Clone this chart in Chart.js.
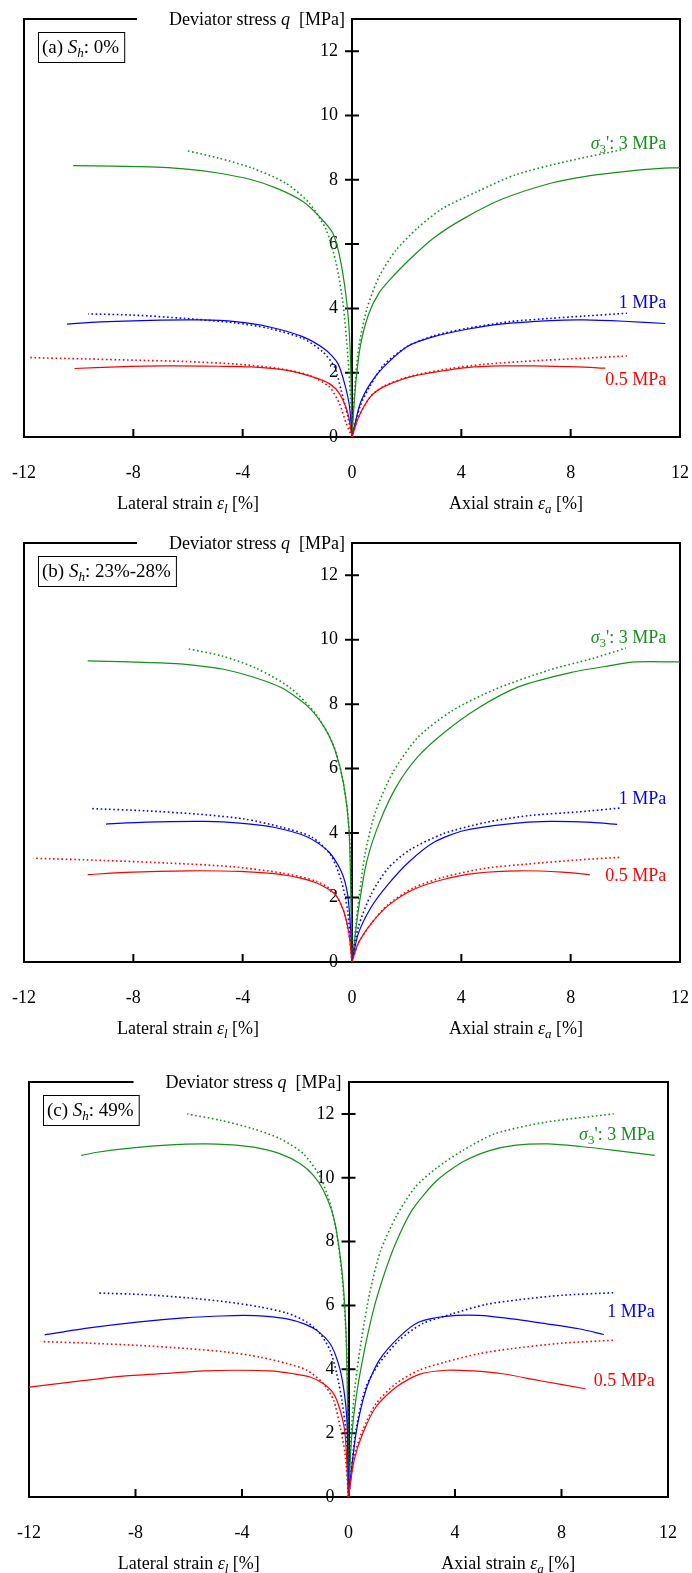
<!DOCTYPE html>
<html lang="en">
<head>
    <meta charset="UTF-8">
    <title>Deviator stress vs strain</title>
    <script src="https://cdn.jsdelivr.net/npm/chart.js"></script>
    <style>
        body {
            margin: 0;
            background-color: #fff;
        }
        .panel {
            position: absolute;
            left: 0;
            width: 692px;
        }
        #pa { top: 0; height: 520px; }
        #pb { top: 524px; height: 520px; }
        #pc { top: 1063px; height: 510px; }
    </style>
</head>
<body>
    <div class="panel" id="pa"><canvas id="chartA"></canvas></div>
    <div class="panel" id="pb"><canvas id="chartB"></canvas></div>
    <div class="panel" id="pc"><canvas id="chartC"></canvas></div>

    <script>
        // x < 0 : lateral strain, x > 0 : axial strain, y : deviator stress q [MPa]
        const xTicks = [-12, -8, -4, 0, 4, 8, 12];
        const yTicks = [0, 2, 4, 6, 8, 10, 12];

        // (a) Sh 0%   Exp = measured (solid), Sim = simulated (dotted)
        const aExp05Lat = [[0,0],[-0.15,0.73],[-0.46,1.35],[-0.83,1.66],[-1.44,1.87],[-2.43,2.08],[-3.67,2.18],[-4.9,2.2],[-6.75,2.21],[-8.6,2.18],[-10.15,2.13]];
        const aSim05Lat = [[0,0],[-0.21,0.42],[-0.46,1.04],[-0.83,1.56],[-1.57,1.92],[-2.68,2.13],[-4.28,2.27],[-6.14,2.35],[-7.99,2.39],[-9.84,2.43],[-11.79,2.47]];
        const aExp1Lat = [[0,0],[-0.09,0.94],[-0.27,1.66],[-0.52,2.29],[-0.95,2.7],[-1.81,3.12],[-3.05,3.43],[-4.28,3.59],[-5.52,3.64],[-7.37,3.63],[-9.22,3.58],[-10.43,3.51]];
        const aSim1Lat = [[0,0],[-0.15,0.62],[-0.4,1.46],[-0.64,2.18],[-1.07,2.65],[-1.81,3.07],[-3.05,3.38],[-4.28,3.55],[-6.14,3.69],[-7.99,3.79],[-9.65,3.83]];
        const aExp3Lat = [[0,0],[-0.05,2.3],[-0.15,3.85],[-0.4,5.4],[-0.7,6.34],[-1.2,6.86],[-1.81,7.33],[-2.68,7.71],[-3.67,8.0],[-4.9,8.21],[-6.14,8.34],[-7.37,8.4],[-10.2,8.44]];
        const aSim3Lat = [[0,0],[-0.02,0.73],[-0.15,2.5],[-0.33,4.16],[-0.58,5.4],[-0.95,6.45],[-1.57,7.28],[-2.43,7.9],[-3.67,8.37],[-4.9,8.68],[-6.07,8.91]];
        const aExp05Axi = [[0,0],[0.24,0.62],[0.67,1.25],[1.16,1.56],[2.13,1.87],[3.11,2.03],[4.21,2.16],[5.43,2.21],[6.65,2.21],[8.23,2.18],[9.27,2.14]];
        const aSim05Axi = [[0,0],[0.24,0.62],[0.67,1.25],[1.16,1.58],[2.13,1.89],[3.6,2.13],[4.82,2.26],[6.65,2.37],[8.48,2.45],[10.06,2.52]];
        const aExp1Axi = [[0,0],[0.3,1.04],[0.67,1.66],[1.16,2.18],[2.01,2.81],[2.99,3.12],[4.21,3.35],[5.43,3.51],[7.26,3.62],[8.48,3.64],[9.94,3.6],[11.46,3.53]];
        const aSim1Axi = [[0,0],[0.3,0.97],[0.67,1.6],[1.16,2.24],[2.01,2.81],[2.99,3.15],[4.21,3.38],[5.79,3.59],[7.26,3.69],[8.48,3.76],[10.06,3.85]];
        const aExp3Axi = [[0,0],[0.12,1.5],[0.3,2.8],[0.6,3.8],[1.0,4.5],[1.5,5.0],[2.2,5.6],[3.0,6.2],[4.1,6.8],[5.5,7.4],[7.3,7.9],[8.5,8.1],[9.7,8.23],[10.9,8.33],[12.0,8.38]];
        const aSim3Axi = [[0,0],[0.1,1.5],[0.25,2.8],[0.55,4.0],[1.0,5.0],[1.6,5.8],[2.4,6.5],[3.3,7.1],[4.6,7.64],[6.0,8.16],[7.9,8.58],[9.9,8.94]];

        // (b) Sh 23%-28%
        const bExp05Lat = [[0,0],[-0.11,0.88],[-0.31,1.59],[-0.62,2.1],[-1.32,2.46],[-2.56,2.71],[-4.11,2.81],[-5.98,2.83],[-8.31,2.78],[-9.67,2.71]];
        const bSim05Lat = [[0,0],[-0.08,0.68],[-0.31,1.59],[-0.7,2.2],[-1.32,2.51],[-2.56,2.76],[-4.43,2.96],[-6.75,3.07],[-9.08,3.15],[-11.65,3.22]];
        const bExp1Lat = [[0,0],[-0.05,1.0],[-0.16,2.1],[-0.39,2.81],[-0.85,3.42],[-1.63,3.88],[-2.87,4.18],[-4.11,4.31],[-5.36,4.36],[-7.53,4.34],[-9.0,4.28]];
        const bSim1Lat = [[0,0],[-0.16,1.59],[-0.39,2.51],[-0.78,3.32],[-1.48,3.88],[-2.56,4.18],[-3.96,4.44],[-5.67,4.59],[-7.53,4.69],[-9.55,4.76]];
        const bExp3Lat = [[0,0],[-0.04,2.0],[-0.11,4.13],[-0.31,5.55],[-0.62,6.57],[-1.01,7.28],[-1.63,7.94],[-2.56,8.5],[-3.65,8.85],[-4.74,9.09],[-5.51,9.18],[-6.44,9.26],[-8.15,9.31],[-9.67,9.34]];
        const bSim3Lat = [[0,0],[-0.05,3.12],[-0.16,4.64],[-0.39,5.86],[-0.7,6.77],[-1.32,7.69],[-2.25,8.5],[-3.49,9.11],[-4.74,9.49],[-6.01,9.72]];
        const bExp05Axi = [[0,0],[0.23,0.58],[0.7,1.19],[1.32,1.75],[2.25,2.25],[3.34,2.56],[4.58,2.76],[6.13,2.83],[7.69,2.79],[8.7,2.71]];
        const bSim05Axi = [[0,0],[0.23,0.58],[0.7,1.19],[1.32,1.78],[2.25,2.3],[3.34,2.63],[4.89,2.91],[6.44,3.04],[8.31,3.17],[9.86,3.25]];
        const bExp1Axi = [[0,0],[0.23,0.88],[0.7,1.7],[1.32,2.41],[2.1,3.12],[3.03,3.73],[4.11,4.08],[5.67,4.28],[7.22,4.36],[8.77,4.33],[9.7,4.27]];
        const bSim1Axi = [[0,0],[0.23,1.08],[0.7,2.1],[1.32,2.91],[2.1,3.47],[3.34,3.98],[4.89,4.33],[6.44,4.54],[8.31,4.66],[9.86,4.78]];
        const bExp3Axi = [[0,0],[0.23,1.59],[0.54,3.12],[1.01,4.34],[1.63,5.45],[2.41,6.37],[3.34,7.1],[4.58,7.86],[6.13,8.55],[8.0,8.98],[9.55,9.21],[10.33,9.31],[12.0,9.31]];
        const bSim3Axi = [[0,0],[0.2,1.59],[0.47,3.32],[0.85,4.64],[1.48,5.86],[2.41,6.97],[3.65,7.79],[5.2,8.45],[7.22,9.06],[8.77,9.41],[10.02,9.74]];

        // (c) Sh 49%
        const cExp05Lat = [[0,0],[-0.13,1.98],[-0.31,2.71],[-0.56,3.24],[-0.94,3.55],[-1.44,3.76],[-2.06,3.86],[-2.94,3.95],[-4.19,3.97],[-5.44,3.95],[-6.69,3.88],[-8.56,3.78],[-10.44,3.6],[-12.0,3.44]];
        const cSim05Lat = [[0,0],[-0.13,1.36],[-0.31,2.19],[-0.56,3.03],[-0.94,3.55],[-1.56,3.97],[-2.31,4.18],[-3.31,4.38],[-4.56,4.54],[-6.06,4.65],[-7.94,4.75],[-9.81,4.82],[-11.56,4.87]];
        const cExp1Lat = [[0,0],[-0.06,2.4],[-0.19,3.44],[-0.38,4.18],[-0.69,4.8],[-1.19,5.22],[-1.69,5.43],[-2.31,5.58],[-3.06,5.66],[-3.94,5.69],[-4.81,5.67],[-6.06,5.62],[-7.94,5.48],[-9.81,5.29],[-11.41,5.08]];
        const cSim1Lat = [[0,0],[-0.09,1.98],[-0.25,3.03],[-0.44,3.86],[-0.69,4.59],[-1.06,5.11],[-1.56,5.48],[-2.31,5.76],[-3.31,5.95],[-4.56,6.11],[-6.06,6.24],[-7.69,6.34],[-9.44,6.39]];
        const cExp3Lat = [[0,0],[-0.03,2.5],[-0.09,5.11],[-0.19,6.58],[-0.34,7.72],[-0.56,8.77],[-0.94,9.6],[-1.31,10.07],[-1.81,10.44],[-2.56,10.75],[-3.56,10.96],[-4.56,11.04],[-5.44,11.06],[-6.69,11.03],[-8.19,10.93],[-9.44,10.8],[-10.04,10.7]];
        const cSim3Lat = [[0,0],[-0.04,4.07],[-0.13,5.64],[-0.25,7.0],[-0.44,8.25],[-0.69,9.19],[-1.06,10.02],[-1.69,10.75],[-2.56,11.22],[-3.56,11.53],[-4.81,11.8],[-6.06,12.0]];
        const cExp05Axi = [[0,0],[0.21,1.15],[0.53,1.98],[1.03,2.82],[1.78,3.44],[2.65,3.84],[3.65,3.97],[4.65,3.95],[5.78,3.86],[7.15,3.65],[8.9,3.39]];
        const cSim05Axi = [[0,0],[0.21,1.25],[0.53,2.09],[1.03,2.92],[1.78,3.55],[2.65,3.97],[3.65,4.23],[4.9,4.49],[6.15,4.65],[8.03,4.82],[9.96,4.91]];
        const cExp1Axi = [[0,0],[0.28,1.98],[0.65,3.34],[1.15,4.28],[1.9,5.01],[2.65,5.48],[3.65,5.66],[4.9,5.69],[6.15,5.58],[7.4,5.43],[8.65,5.27],[9.59,5.09]];
        const cSim1Axi = [[0,0],[0.28,2.09],[0.65,3.44],[1.15,4.18],[1.9,4.91],[2.78,5.43],[3.9,5.74],[5.15,6.03],[6.4,6.18],[8.03,6.32],[9.96,6.4]];
        const cExp3Axi = [[0,0],[0.12,1.9],[0.3,3.2],[0.6,4.6],[0.95,5.9],[1.35,7.0],[1.8,8.0],[2.4,9.0],[3.3,9.9],[4.3,10.5],[5.3,10.85],[6.3,11.02],[7.5,11.06],[8.7,10.98],[10.0,10.86],[11.5,10.7]];
        const cSim3Axi = [[0,0],[0.1,2.0],[0.25,3.5],[0.5,5.0],[0.8,6.4],[1.2,7.7],[1.8,8.8],[2.5,9.7],[3.3,10.3],[4.3,10.86],[5.5,11.38],[7.4,11.74],[9.96,12.0]];

        // q at which the curve labels sit (right end at x = 11.5)
        const labelQa = [1.79, 4.19, 9.13];
        const labelQb = [2.71, 5.1, 10.07];
        const labelQc = [3.67, 5.82, 11.38];

        const GREEN = '#15901a';
        const BLUE = '#0000ff';
        const RED = '#ff0000';
        const FONT = '"Liberation Serif", "Times New Roman", serif';

        function toPts(arr) {
            return arr.map(p => ({ x: p[0], y: p[1] }));
        }

        function line(arr, color, dotted) {
            return {
                data: toPts(arr),
                borderColor: color,
                borderWidth: dotted ? 1.6 : 1.2,
                borderDash: dotted ? [1.6, 2.6] : [],
                showLine: true,
                pointRadius: 0,
                tension: 0.25,
                fill: false
            };
        }

        // text made of normal / italic / subscript pieces
        function fontFor(p, size) {
            const s = p.sub ? Math.round(size * 0.7) : size;
            return (p.it ? 'italic ' : '') + s + 'px ' + FONT;
        }
        function richWidth(ctx, parts, size) {
            let w = 0;
            parts.forEach(p => { ctx.font = fontFor(p, size); w += ctx.measureText(p.t).width; });
            return w;
        }
        function drawRich(ctx, parts, x, y, size, align) {
            const w = richWidth(ctx, parts, size);
            let cx = align === 'right' ? x - w : (align === 'center' ? x - w / 2 : x);
            const base = y + size * 0.33;
            ctx.textAlign = 'left';
            ctx.textBaseline = 'alphabetic';
            parts.forEach(p => {
                ctx.font = fontFor(p, size);
                ctx.fillText(p.t, cx, p.sub ? base + size * 0.22 : base);
                cx += ctx.measureText(p.t).width;
            });
            return w;
        }

        const titleParts = [{ t: 'Deviator stress ' }, { t: 'q', it: true }, { t: '  [MPa]' }];
        const latParts = [{ t: 'Lateral strain ' }, { t: 'ε', it: true }, { t: 'l', it: true, sub: true }, { t: ' [%]' }];
        const axiParts = [{ t: 'Axial strain ' }, { t: 'ε', it: true }, { t: 'a', it: true, sub: true }, { t: ' [%]' }];

        const panelDeco = {
            id: 'panelDeco',
            beforeDatasetsDraw(chart, args, opts) {
                const ctx = chart.ctx;
                const a = chart.chartArea;
                const xs = chart.scales.x;
                const ys = chart.scales.y;
                const x0 = xs.getPixelForValue(0);
                ctx.save();
                ctx.strokeStyle = '#000';
                ctx.lineWidth = 2;
                // frame: left, right, and the top line with a gap for the title
                const tw = richWidth(ctx, titleParts, 18);
                const titleRight = x0 - 7;
                const gapStart = titleRight - tw - 32;
                ctx.beginPath();
                ctx.moveTo(a.left, a.bottom);
                ctx.lineTo(a.left, a.top);
                ctx.lineTo(gapStart, a.top);
                ctx.moveTo(x0, a.top);
                ctx.lineTo(a.right, a.top);
                ctx.lineTo(a.right, a.bottom);
                ctx.stroke();
                // tick marks
                ctx.beginPath();
                ys.ticks.forEach(t => {
                    if (t.value === 0) return;
                    const py = ys.getPixelForValue(t.value);
                    ctx.moveTo(x0 - 7, py);
                    ctx.lineTo(x0 + 7, py);
                });
                xs.ticks.forEach(t => {
                    if (Math.abs(t.value) === 12 || t.value === 0) return;
                    const px = xs.getPixelForValue(t.value);
                    ctx.moveTo(px, a.bottom);
                    ctx.lineTo(px, a.bottom - 8);
                });
                ctx.stroke();
                ctx.fillStyle = '#000';
                drawRich(ctx, titleParts, titleRight, a.top, 18, 'right');
                // axis titles
                drawRich(ctx, latParts, xs.getPixelForValue(-6), a.bottom + 66, 18, 'center');
                drawRich(ctx, axiParts, xs.getPixelForValue(6), a.bottom + 66, 18, 'center');
                // panel label in a box
                const lw = richWidth(ctx, opts.label, 19);
                const bx = a.left + 14, by = a.top + 13;
                ctx.lineWidth = 1;
                ctx.strokeRect(bx + 0.5, by + 0.5, lw + 9, 30);
                drawRich(ctx, opts.label, bx + 4, by + 15, 19, 'left');
                // curve labels
                const names = [
                    { parts: [{ t: '0.5 MPa' }], color: RED },
                    { parts: [{ t: '1 MPa' }], color: BLUE },
                    { parts: [{ t: 'σ', it: true }, { t: '3', sub: true }, { t: "': 3 MPa" }], color: GREEN }
                ];
                names.forEach((n, i) => {
                    ctx.fillStyle = n.color;
                    drawRich(ctx, n.parts, xs.getPixelForValue(11.5), ys.getPixelForValue(opts.labelQ[i]), 18, 'right');
                });
                ctx.restore();
            }
        };

        function makeChart(id, sets, label, labelQ, pad) {
            const datasets = [
                line(sets.exp05Lat, RED, false), line(sets.sim05Lat, RED, true),
                line(sets.exp05Axi, RED, false), line(sets.sim05Axi, RED, true),
                line(sets.exp1Lat, BLUE, false), line(sets.sim1Lat, BLUE, true),
                line(sets.exp1Axi, BLUE, false), line(sets.sim1Axi, BLUE, true),
                line(sets.exp3Lat, GREEN, false), line(sets.sim3Lat, GREEN, true),
                line(sets.exp3Axi, GREEN, false), line(sets.sim3Axi, GREEN, true)
            ];
            return new Chart(document.getElementById(id), {
                type: 'scatter',
                data: { datasets: datasets },
                plugins: [panelDeco],
                options: {
                    responsive: true,
                    maintainAspectRatio: false,
                    animation: false,
                    events: [],
                    layout: { padding: pad },
                    plugins: {
                        legend: { display: false },
                        tooltip: { enabled: false },
                        panelDeco: { label: label, labelQ: labelQ }
                    },
                    scales: {
                        x: {
                            type: 'linear',
                            position: 'bottom',
                            min: -12,
                            max: 12,
                            afterBuildTicks: s => { s.ticks = xTicks.map(v => ({ value: v })); },
                            afterFit: s => { s.height = 60; },
                            // hidden tick length pushes the labels down without widening the side padding
                            grid: { display: false, drawTicks: true, tickLength: 25 },
                            border: { display: true, color: '#000', width: 2 },
                            ticks: { color: '#000', padding: 0, font: { family: FONT, size: 18 } }
                        },
                        y: {
                            type: 'linear',
                            position: { x: 0 },
                            min: 0,
                            max: 13,
                            afterBuildTicks: s => { s.ticks = yTicks.map(v => ({ value: v })); },
                            afterFit: s => { s.width = 0; },
                            grid: { display: false, drawTicks: false },
                            border: { display: true, color: '#000', width: 2 },
                            // label sits left of the centred axis; the spaces keep a gap
                            ticks: {
                                color: '#000',
                                font: { family: FONT, size: 18 },
                                callback: v => v + '\u2002\u2009\u200A'
                            }
                        }
                    }
                }
            });
        }

        makeChart('chartA', {
            exp05Lat: aExp05Lat, sim05Lat: aSim05Lat, exp05Axi: aExp05Axi, sim05Axi: aSim05Axi,
            exp1Lat: aExp1Lat, sim1Lat: aSim1Lat, exp1Axi: aExp1Axi, sim1Axi: aSim1Axi,
            exp3Lat: aExp3Lat, sim3Lat: aSim3Lat, exp3Axi: aExp3Axi, sim3Axi: aSim3Axi
        }, [{ t: '(a) ' }, { t: 'S', it: true }, { t: 'h', it: true, sub: true }, { t: ': 0%' }], labelQa,
            { left: 24, right: 12, top: 19, bottom: 23 });

        makeChart('chartB', {
            exp05Lat: bExp05Lat, sim05Lat: bSim05Lat, exp05Axi: bExp05Axi, sim05Axi: bSim05Axi,
            exp1Lat: bExp1Lat, sim1Lat: bSim1Lat, exp1Axi: bExp1Axi, sim1Axi: bSim1Axi,
            exp3Lat: bExp3Lat, sim3Lat: bSim3Lat, exp3Axi: bExp3Axi, sim3Axi: bSim3Axi
        }, [{ t: '(b) ' }, { t: 'S', it: true }, { t: 'h', it: true, sub: true }, { t: ': 23%-28%' }], labelQb,
            { left: 24, right: 12, top: 19, bottom: 22 });

        makeChart('chartC', {
            exp05Lat: cExp05Lat, sim05Lat: cSim05Lat, exp05Axi: cExp05Axi, sim05Axi: cSim05Axi,
            exp1Lat: cExp1Lat, sim1Lat: cSim1Lat, exp1Axi: cExp1Axi, sim1Axi: cSim1Axi,
            exp3Lat: cExp3Lat, sim3Lat: cSim3Lat, exp3Axi: cExp3Axi, sim3Axi: cSim3Axi
        }, [{ t: '(c) ' }, { t: 'S', it: true }, { t: 'h', it: true, sub: true }, { t: ': 49%' }], labelQc,
            { left: 29, right: 24, top: 19, bottom: 16 });
    </script>
</body>
</html>
